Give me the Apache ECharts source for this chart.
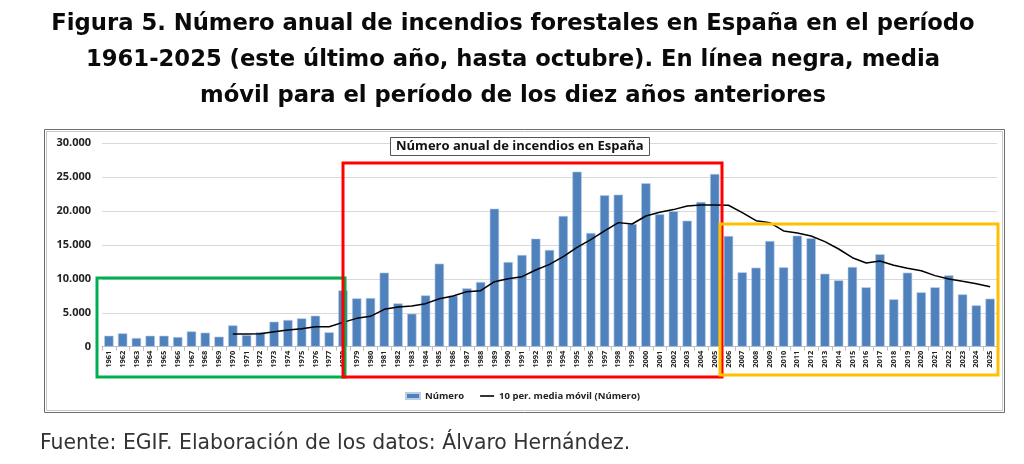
<!DOCTYPE html>
<html>
<head>
<meta charset="utf-8">
<script src="https://cdn.jsdelivr.net/npm/echarts@6/dist/echarts.min.js"></script>
<style>
  html, body { margin: 0; padding: 0; background: #fff; }
  #chart { width: 1024px; height: 464px; }
</style>
</head>
<body>
<div id="chart"></div>
<script>
const years = [];
for (let y = 1961; y <= 2025; y++) years.push(String(y));

// Número anual de incendios
const fires = [
  1620, 1970, 1280, 1620, 1620, 1430, 2260, 2070, 1480, 3150,
  1720, 2120, 3690, 3940, 4180, 4570, 2120, 8310, 7130, 7180,
  10920, 6390, 4870, 7570, 12250, 7520, 8610, 9540, 20360, 12490,
  13530, 15940, 14260, 19280, 25820, 16770, 22330, 22430, 18100, 24100,
  19530, 19970, 18590, 21350, 25480, 16330, 10970, 11660, 15590, 11710,
  16380, 15990, 10770, 9790, 11760, 8760, 13630, 6990, 10920, 8020,
  8760, 10530, 7720, 6100, 7080
];

// Media móvil de 10 periodos (desde 1970)
const movingAvg = [
  null, null, null, null, null, null, null, null, null, 1870,
  1870, 1920, 2210, 2460, 2660, 2950, 2950, 3590, 4180, 4480,
  5510, 5850, 6000, 6350, 7080, 7480, 8120, 8260, 9590, 10030,
  10330, 11310, 12150, 13280, 14660, 15790, 17070, 18300, 18100, 19280,
  19820, 20220, 20760, 20900, 20900, 20860, 19770, 18590, 18300, 17070,
  16770, 16330, 15490, 14410, 13130, 12350, 12640, 12000, 11560, 11210,
  10480, 9990, 9640, 9300, 8850
];

const titleLines = [
  'Figura 5. Número anual de incendios forestales en España en el período',
  '1961-2025 (este último año, hasta octubre). En línea negra, media',
  'móvil para el período de los diez años anteriores'
];
const sourceText = 'Fuente: EGIF. Elaboración de los datos: Álvaro Hernández.';

const fmt = (v) => v.toLocaleString('de-DE');
const chartFont = '"Open Sans", "Liberation Sans", sans-serif';
const headFont = '"DejaVu Sans", "Open Sans", sans-serif';

const chart = echarts.init(document.getElementById('chart'), null, { renderer: 'canvas' });

chart.setOption({
  animation: false,
  backgroundColor: '#fff',
  title: {
    text: 'Número anual de incendios en España',
    left: 390,
    top: 137,
    padding: [3, 6, 3, 6],
    borderColor: '#555',
    borderWidth: 1,
    backgroundColor: '#fff',
    textStyle: { fontFamily: chartFont, fontWeight: 'bold', fontSize: 13, color: '#111' }
  },
  legend: {
    left: 400,
    top: 386,
    itemGap: 16,
    itemWidth: 14,
    itemHeight: 6,
    textStyle: { fontFamily: chartFont, fontWeight: 'bold', fontSize: 9.5, color: '#222' },
    data: [
      { name: 'Número', icon: 'rect' },
      { name: '10 per. media móvil (Número)', icon: 'path://M0,0 L14,0 L14,1.6 L0,1.6 Z' }
    ]
  },
  grid: { left: 102, right: 27, top: 143.3, bottom: 117.3, containLabel: false },
  xAxis: {
    type: 'category',
    data: years,
    axisLine: { lineStyle: { color: '#bfbfbf' } },
    axisTick: { show: true, alignWithLabel: false, length: 4, lineStyle: { color: '#bfbfbf' } },
    axisLabel: {
      interval: 0, rotate: 90, fontSize: 7.5, fontWeight: 'bold',
      fontFamily: chartFont, color: '#222', margin: 4
    }
  },
  yAxis: {
    type: 'value',
    min: 0, max: 30000, interval: 5000,
    axisLine: { show: false },
    axisTick: { show: false },
    splitLine: { lineStyle: { color: '#d9d9d9' } },
    axisLabel: {
      formatter: fmt, fontSize: 11, fontWeight: 'bold',
      fontFamily: chartFont, color: '#222', margin: 11
    }
  },
  series: [{
    name: 'Número',
    type: 'bar',
    data: fires,
    barCategoryGap: '32%',
    itemStyle: { color: '#4f81bd', borderColor: '#b9cde5', borderWidth: 0.6 }
  }, {
    name: '10 per. media móvil (Número)',
    type: 'line',
    data: movingAvg,
    symbol: 'none',
    connectNulls: false,
    lineStyle: { color: '#000', width: 1.5 },
    itemStyle: { color: '#000' },
    z: 5
  }],
  graphic: [
    // título de la figura
    { type: 'text', x: 513, y: 6, z: 100,
      style: { text: titleLines.join('\n'), align: 'center', verticalAlign: 'top',
        fontFamily: headFont, fontWeight: 'bold', fontSize: 22.7, lineHeight: 36, fill: '#0a0a0a' } },
    // marco del gráfico (doble línea)
    { type: 'rect', shape: { x: 44.5, y: 129.5, width: 960, height: 283 },
      style: { fill: 'none', stroke: '#6d6d6d', lineWidth: 1 }, z: 1 },
    { type: 'rect', shape: { x: 46.5, y: 131.5, width: 956, height: 279 },
      style: { fill: 'none', stroke: '#c8c8c8', lineWidth: 1 }, z: 1 },
    // recuadros de los periodos
    { type: 'rect', shape: { x: 97, y: 278, width: 248, height: 99 },
      style: { fill: 'none', stroke: '#00b050', lineWidth: 3 }, z: 100 },
    { type: 'rect', shape: { x: 343, y: 163, width: 379, height: 214 },
      style: { fill: 'none', stroke: '#ff0000', lineWidth: 3 }, z: 100 },
    { type: 'rect', shape: { x: 720, y: 224, width: 278, height: 151 },
      style: { fill: 'none', stroke: '#ffc000', lineWidth: 3 }, z: 100 },
    // fuente
    { type: 'text', x: 40, y: 434, z: 100,
      style: { text: sourceText, fontFamily: headFont, fontSize: 20.4, fill: '#333' } }
  ]
});
</script>
</body>
</html>
